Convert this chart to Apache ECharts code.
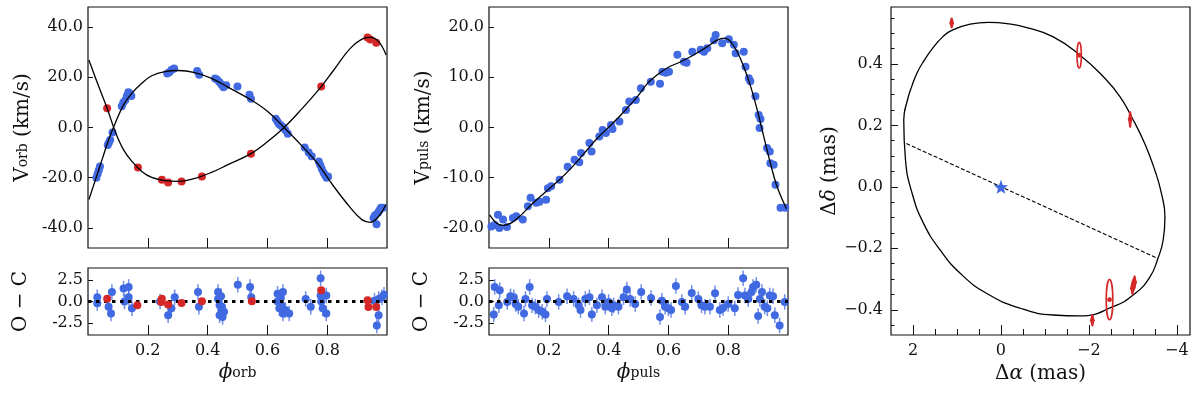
<!DOCTYPE html>
<html>
<head>
<meta charset="utf-8">
<script src="https://cdn.jsdelivr.net/npm/echarts@6.0.0/dist/echarts.min.js"></script>
<style>
  html, body { margin: 0; padding: 0; background: #fff; }
  #chart { width: 1200px; height: 396px; }
</style>
</head>
<body>
<div id="chart"></div>
<script>
// tick values
const phaseTicks = [0.2, 0.4, 0.6, 0.8];
const orbTicks = [-40, -20, 0, 20, 40];
const pulsTicks = [-20, -10, 0, 10, 20];
const ocTicks = [-2.5, 0, 2.5];
const raTicks = [2, 0, -2, -4];
const raMinor = [2, 1.5, 1, 0.5, 0, -0.5, -1, -1.5, -2, -2.5, -3, -3.5, -4];
const decTicks = [-0.4, -0.2, 0, 0.2, 0.4];
const decMinor = [-0.45, -0.4, -0.35, -0.3, -0.25, -0.2, -0.15, -0.1, -0.05, 0, 0.05, 0.1, 0.15, 0.2, 0.25, 0.3, 0.35, 0.4, 0.45, 0.5, 0.55];

// orbital RV: [phase, km/s]
const orbBlue = [[0.028,-20],[0.032,-18.5],[0.036,-17],[0.040,-15.5],[0.066,-7],[0.070,-6],[0.074,-5],[0.082,-2],
  [0.113,8.5],[0.118,10],[0.125,11],[0.130,12.5],[0.135,14],[0.140,13.5],[0.145,12.5],
  [0.265,21.5],[0.272,22],[0.280,23],[0.288,23.5],[0.365,22.5],[0.372,21],
  [0.425,19.5],[0.432,19],[0.440,18],[0.447,17],[0.453,16],[0.462,16.8],[0.500,16.3],[0.540,13],[0.545,11.5],
  [0.628,3.5],[0.633,2.5],[0.638,1.5],[0.643,1],[0.648,0.5],[0.653,0],[0.660,-1],[0.668,-2.5],
  [0.725,-8],[0.738,-10],[0.748,-11.5],[0.772,-13.5],[0.777,-15],[0.782,-16.5],[0.788,-18],[0.793,-19],[0.798,-20],[0.803,-19.5],
  [0.955,-36],[0.960,-35],[0.965,-38.5],[0.970,-34],[0.975,-33],[0.980,-32],[0.987,-32]];
const orbRed = [[0.064,7.7],[0.167,-15.9],[0.247,-20.8],[0.268,-21.9],[0.313,-21.5],[0.381,-19.5],
  [0.545,-10.5],[0.780,16.3],[0.935,35.9],[0.944,35.1],[0.964,33.8]];
const orbModelA = [[0.003,-28.7],[0.025,-20.8],[0.047,-12.8],[0.069,-4.9],[0.091,1.7],[0.119,9],[0.147,13.7],[0.18,17.6],
  [0.213,20.6],[0.257,22.3],[0.302,22.7],[0.357,21.9],[0.413,19.6],[0.468,16.1],[0.545,11],[0.601,6.4],[0.656,0],
  [0.712,-6.9],[0.767,-14.2],[0.822,-23.5],[0.878,-32],[0.916,-36.7],[0.944,-37.8],[0.972,-35.4],[0.997,-30.7]];
const orbModelB = [[0.003,26.9],[0.036,16.3],[0.064,7.7],[0.091,-1.6],[0.119,-8.9],[0.147,-13.5],[0.18,-17.5],[0.213,-19.9],
  [0.257,-21.2],[0.302,-21.5],[0.357,-20.3],[0.413,-17.9],[0.468,-14.8],[0.545,-10.4],[0.601,-5.6],[0.656,0],
  [0.712,7],[0.78,16.3],[0.822,22.9],[0.878,31.6],[0.922,35.5],[0.944,35.9],[0.972,34.2],[0.997,28.9]];

// orbital residuals: [phase, O-C]
const ocOrbBlue = [[0.031,0.5],[0.031,-0.2],[0.069,-0.6],[0.080,1.1],[0.077,-1.4],[0.119,1.5],[0.136,1.7],[0.122,0],
  [0.136,0.5],[0.147,-0.8],[0.241,0],[0.268,-1.6],[0.279,-0.8],[0.290,0.5],[0.368,1.1],[0.371,-0.6],
  [0.435,1.1],[0.435,0.3],[0.440,-0.4],[0.446,-1],[0.440,-1.6],[0.450,-1.8],[0.445,0.6],[0.448,-0.6],[0.455,-1.2],
  [0.501,1.95],[0.542,1.7],[0.546,0.5],[0.634,0.9],[0.634,0],[0.640,-0.8],[0.652,1.1],[0.652,-1.4],[0.645,0.4],
  [0.648,-0.5],[0.660,-1],[0.673,-1.4],[0.728,0.3],[0.745,-0.6],[0.778,2.7],[0.778,0.7],[0.780,0],[0.785,-0.8],
  [0.797,0.7],[0.797,-1.4],[0.958,0.1],[0.972,0.3],[0.972,-1.6],[0.966,-2.8],[0.983,0.5],[0.990,0.8]];
const ocOrbRed = [[0.064,0.33],[0.165,-0.44],[0.247,0.33],[0.245,-0.05],[0.268,-0.35],[0.313,-0.17],[0.381,0.02],
  [0.548,0.02],[0.780,1.3],[0.935,0.14],[0.938,-0.63],[0.964,-0.63]];
const ocErr = 0.9;

// pulsation RV: [phase, km/s]
const pulsPts = [[0.008,-19.7],[0.019,-19.4],[0.030,-17.4],[0.035,-20],[0.047,-18.3],[0.060,-19.8],[0.080,-18],[0.091,-17.7],
  [0.113,-18.3],[0.130,-15.7],[0.139,-14],[0.158,-15],[0.169,-14.8],[0.191,-14.4],[0.197,-12.1],[0.208,-11.7],
  [0.236,-10.4],[0.263,-7.8],[0.286,-6.4],[0.302,-6.9],[0.308,-5.1],[0.336,-3.1],[0.343,-4.8],[0.369,-1.8],
  [0.380,-0.5],[0.391,-1.1],[0.408,0.5],[0.413,-0.3],[0.436,1.2],[0.458,3.5],[0.469,5.2],[0.491,5.5],[0.508,7.8],
  [0.541,9.1],[0.572,8.7],[0.580,11.1],[0.591,10.9],[0.602,11.1],[0.630,14.5],[0.652,13.1],[0.661,12.9],
  [0.680,15.1],[0.708,15.5],[0.719,15.1],[0.730,15.8],[0.752,17.4],[0.758,18.4],[0.780,16.8],[0.802,17.6],
  [0.819,16.5],[0.825,14.8],[0.852,15.1],[0.858,12.1],[0.869,9.8],[0.874,9.2],[0.891,6.2],[0.902,2.5],
  [0.908,1.7],[0.905,-0.1],[0.930,-4.1],[0.939,-4.8],[0.941,-7.1],[0.952,-7.4],[0.958,-11.4],[0.975,-16],[0.991,-16]];
const pulsModel = [[0.002,-17.4],[0.025,-19],[0.047,-19.5],[0.075,-19],[0.108,-17.4],[0.141,-15.4],[0.186,-13],
  [0.23,-10.7],[0.275,-8.1],[0.319,-5.1],[0.363,-2.1],[0.408,0.5],[0.452,3.2],[0.497,6.2],[0.53,8.8],[0.563,10.5],
  [0.597,11.9],[0.641,13.1],[0.686,14.5],[0.73,16.1],[0.763,17.4],[0.788,17.8],[0.808,17.1],[0.83,15.1],
  [0.852,12.1],[0.875,8.2],[0.897,3.5],[0.919,-1.8],[0.941,-7.1],[0.963,-11.7],[0.995,-16.2]];
const ocPuls = [[0.016,-1.5],[0.019,1.7],[0.036,1.3],[0.033,-0.45],[0.061,-0.05],[0.072,0.6],[0.083,0.5],[0.089,-0.3],
  [0.098,-0.6],[0.117,-1.4],[0.122,0.3],[0.136,1.7],[0.144,-0.45],[0.155,-0.6],[0.166,-1],[0.178,-1.2],[0.189,-1.5],
  [0.194,0.3],[0.233,-0.05],[0.261,0.6],[0.283,0.3],[0.300,-0.45],[0.306,-1],[0.322,0.3],[0.336,0.5],[0.344,-1.5],
  [0.361,-0.45],[0.378,0.5],[0.389,-0.6],[0.400,-0.05],[0.411,-0.8],[0.417,-0.45],[0.433,-0.6],[0.450,0.5],
  [0.461,1.4],[0.472,0.3],[0.489,-0.3],[0.509,1.1],[0.542,0.4],[0.572,-1.8],[0.578,0.1],[0.589,-0.6],[0.600,-0.8],
  [0.609,-1],[0.625,1.8],[0.645,-0.05],[0.656,-0.6],[0.678,1],[0.700,0.3],[0.711,-0.45],[0.722,-0.6],[0.739,-0.6],
  [0.756,0.95],[0.772,-1],[0.783,-0.75],[0.800,-0.3],[0.822,-0.8],[0.833,0.75],[0.850,2.7],[0.856,0.7],[0.867,0.3],
  [0.878,1.1],[0.883,1.7],[0.894,1.95],[0.900,-1.7],[0.906,0.3],[0.913,1.1],[0.922,-0.6],[0.931,-0.8],[0.939,0.7],
  [0.950,0.6],[0.956,-1.6],[0.972,-2.8],[0.989,-0.05]];

// astrometric orbit (mas): model ellipse traced clockwise and wrapped past the start, line of nodes,
// measured positions [ra, dec, err_ra, err_dec]
const orbitRA  = [2.17, 2.21, 2.13, 2.02, 1.90, 1.75, 1.53, 1.33, 1.13, 0.70, 0.28, -0.14, -0.59, -1.19, -1.80, -2.33,
  -2.71, -2.97, -3.27, -3.50, -3.65, -3.73, -3.69, -3.57, -3.39, -3.05, -2.55, -1.80, -1.19, -0.44, 0.32, 0.92,
  1.38, 1.76, 2.02, 2.17, 2.21, 2.13];
const orbitDec = [0.087, 0.217, 0.280, 0.330, 0.373, 0.410, 0.455, 0.487, 0.508, 0.529, 0.535, 0.531, 0.518, 0.488,
  0.428, 0.358, 0.293, 0.228, 0.141, 0.054, -0.021, -0.098, -0.173, -0.233, -0.293, -0.347, -0.390, -0.420,
  -0.417, -0.395, -0.347, -0.282, -0.206, -0.119, -0.021, 0.087, 0.217, 0.280];
const nodesLine = [[2.15, 0.141], [-3.57, -0.233]];
const astroPts = [[1.12,0.533,0.02,0.015],[-1.78,0.428,0.05,0.042],[-2.94,0.219,0.02,0.025],[-3.01,-0.32,0.02,0.02],
  [-3.04,-0.31,0.02,0.02],[-2.99,-0.33,0.02,0.02],[-2.47,-0.367,0.075,0.065],[-2.08,-0.434,0.02,0.018]];
const starPos = [[0, 0]];

const SERIF = 'DejaVu Serif';
const BLUE = '#4169e1';
const RED = '#d62728';
const INK = '#111';

const chart = echarts.init(document.getElementById('chart'));

const tickFont = { fontFamily: SERIF, fontSize: 16, color: INK };
// tokens sit on the line bottom; the short line height of "s" pushes it down (subscript)
const nameRich = {
  a: { fontFamily: SERIF, fontSize: 20, color: INK, lineHeight: 22 },
  i: { fontFamily: SERIF, fontSize: 20, fontStyle: 'italic', color: INK, lineHeight: 22 },
  s: { fontFamily: SERIF, fontSize: 14, color: INK, lineHeight: 10 }
};

function grid(left, top, width, height) {
  return { left, top, width, height, show: true, borderColor: INK, borderWidth: 1.2, backgroundColor: 'transparent' };
}

function axis(o, tickVals, tickLen, labelVals, fmt, margin) {
  const a = {
    type: 'value',
    splitLine: { show: false },
    axisLine: { show: false, onZero: false },
    axisTick: { show: true, inside: true, length: tickLen, customValues: tickVals, lineStyle: { color: INK, width: 1 } },
    axisLabel: labelVals
      ? Object.assign({ customValues: labelVals, formatter: fmt, margin: margin }, tickFont)
      : { show: false }
  };
  return Object.assign(a, o);
}

const fix1 = v => v.toFixed(1);
const uminus0 = v => (v < 0 ? '\u2212' : '') + Math.abs(v).toFixed(0);
const uminus1 = v => (v < 0 ? '\u2212' : '') + Math.abs(v).toFixed(1);

function yName(text, gap) {
  return { name: text, nameLocation: 'middle', nameGap: gap, nameRotate: 90, nameTextStyle: { rich: nameRich } };
}
function xName(text, gap) {
  return { name: text, nameLocation: 'middle', nameGap: gap, nameTextStyle: { rich: nameRich } };
}

function errRender(params, api) {
  const x = api.value(0), y = api.value(1);
  const p1 = api.coord([x, y - ocErr]);
  const p2 = api.coord([x, y + ocErr]);
  return {
    type: 'line',
    shape: { x1: p1[0], y1: p1[1], x2: p2[0], y2: p2[1] },
    style: { stroke: 'rgba(65,105,225,0.75)', lineWidth: 1.5 }
  };
}

function astroRender(params, api) {
  const c = api.coord([api.value(0), api.value(1)]);
  const s = api.size([api.value(2), api.value(3)]);
  return {
    type: 'group',
    children: [
      { type: 'ellipse', shape: { cx: c[0], cy: c[1], rx: Math.max(Math.abs(s[0]), 0.8), ry: Math.abs(s[1]) },
        style: { fill: 'none', stroke: RED, lineWidth: 1.6 } },
      { type: 'circle', shape: { cx: c[0], cy: c[1], r: 2.4 }, style: { fill: RED } }
    ]
  };
}

const zeroLine = {
  silent: true, symbol: 'none', label: { show: false },
  lineStyle: { color: '#000', type: [3.5, 4.5], width: 3, cap: 'butt' },
  data: [{ yAxis: 0 }]
};

const option = {
  animation: false,
  backgroundColor: '#fff',
  grid: [
    grid(88, 7, 299, 241),
    grid(88, 268, 299, 67),
    grid(489, 7, 299, 241),
    grid(489, 268, 299, 67),
    grid(891, 7, 299, 328)
  ],
  xAxis: [
    axis({ gridIndex: 0, min: 0, max: 1, position: 'bottom' }, phaseTicks, 10),
    axis(Object.assign({ gridIndex: 1, min: 0, max: 1, position: 'bottom' },
      xName('{i|\u03d5}{s|orb}', 27)), phaseTicks, 10, phaseTicks, fix1, 8),
    axis({ gridIndex: 2, min: 0, max: 1, position: 'bottom' }, phaseTicks, 10),
    axis(Object.assign({ gridIndex: 3, min: 0, max: 1, position: 'bottom' },
      xName('{i|\u03d5}{s|puls}', 27)), phaseTicks, 10, phaseTicks, fix1, 8),
    axis(Object.assign({ gridIndex: 4, min: -4.3, max: 2.5, inverse: true, position: 'bottom' },
      xName('{a|\u0394}{i|\u03b1}{a| (mas)}', 28)), raTicks, 10, raTicks, uminus0, 8),
    axis({ gridIndex: 4, min: -4.3, max: 2.5, inverse: true, position: 'bottom' }, raMinor, 6)
  ],
  yAxis: [
    axis(Object.assign({ gridIndex: 0, min: -48, max: 48, position: 'left' },
      yName('{a|V}{s|orb}{a| (km/s)}', 54)), orbTicks, 5, orbTicks, fix1, 5),
    axis(Object.assign({ gridIndex: 1, min: -3.9, max: 3.9, position: 'left' },
      yName('{a|O \u2212 C}', 56)), ocTicks, 5, ocTicks, fix1, 5),
    axis(Object.assign({ gridIndex: 2, min: -24, max: 24, position: 'left' },
      yName('{a|V}{s|puls}{a| (km/s)}', 54)), pulsTicks, 5, pulsTicks, fix1, 5),
    axis(Object.assign({ gridIndex: 3, min: -3.9, max: 3.9, position: 'left' },
      yName('{a|O \u2212 C}', 56)), ocTicks, 5, ocTicks, fix1, 5),
    axis(Object.assign({ gridIndex: 4, min: -0.482, max: 0.585, position: 'left' },
      yName('{a|\u0394}{i|\u03b4}{a| (mas)}', 50)), decTicks, 7, decTicks, uminus1, 8),
    axis({ gridIndex: 4, min: -0.482, max: 0.585, position: 'left' }, decMinor, 3.5)
  ],
  series: [
    // orbital RV panel
    { type: 'scatter', xAxisIndex: 0, yAxisIndex: 0, data: orbBlue, symbolSize: 8, itemStyle: { color: BLUE, opacity: 1 }, z: 2 },
    { type: 'scatter', xAxisIndex: 0, yAxisIndex: 0, data: orbRed, symbolSize: 8, itemStyle: { color: RED, opacity: 1 }, z: 3 },
    { type: 'line', xAxisIndex: 0, yAxisIndex: 0, data: orbModelA, smooth: 0.4, showSymbol: false, symbol: 'none',
      lineStyle: { color: '#000', width: 1.3 }, z: 5 },
    { type: 'line', xAxisIndex: 0, yAxisIndex: 0, data: orbModelB, smooth: 0.4, showSymbol: false, symbol: 'none',
      lineStyle: { color: '#000', width: 1.3 }, z: 5 },
    // orbital residuals
    { type: 'custom', xAxisIndex: 1, yAxisIndex: 1, data: ocOrbBlue, renderItem: errRender, encode: { x: 0, y: 1 }, z: 1 },
    { type: 'scatter', xAxisIndex: 1, yAxisIndex: 1, data: ocOrbBlue, symbolSize: 8, itemStyle: { color: BLUE, opacity: 1 }, z: 2,
      markLine: zeroLine },
    { type: 'scatter', xAxisIndex: 1, yAxisIndex: 1, data: ocOrbRed, symbolSize: 8, itemStyle: { color: RED, opacity: 1 }, z: 6 },
    // pulsation RV panel
    { type: 'scatter', xAxisIndex: 2, yAxisIndex: 2, data: pulsPts, symbolSize: 8, itemStyle: { color: BLUE, opacity: 1 }, z: 2 },
    { type: 'line', xAxisIndex: 2, yAxisIndex: 2, data: pulsModel, smooth: 0.4, showSymbol: false, symbol: 'none',
      lineStyle: { color: '#000', width: 1.3 }, z: 5 },
    // pulsation residuals
    { type: 'custom', xAxisIndex: 3, yAxisIndex: 3, data: ocPuls, renderItem: errRender, encode: { x: 0, y: 1 }, z: 1 },
    { type: 'scatter', xAxisIndex: 3, yAxisIndex: 3, data: ocPuls, symbolSize: 8, itemStyle: { color: BLUE, opacity: 1 }, z: 2,
      markLine: zeroLine },
    // astrometric orbit
    { type: 'line', xAxisIndex: 4, yAxisIndex: 4, data: orbitRA.map((v, i) => [v, orbitDec[i]]), smooth: 0.5,
      showSymbol: false, symbol: 'none', lineStyle: { color: '#000', width: 1.3 }, z: 3 },
    { type: 'line', xAxisIndex: 4, yAxisIndex: 4, data: nodesLine, showSymbol: false, symbol: 'none',
      lineStyle: { color: '#000', width: 1.1, type: [4, 2] }, z: 3 },
    { type: 'custom', xAxisIndex: 4, yAxisIndex: 4, data: astroPts, renderItem: astroRender, encode: { x: 0, y: 1 }, z: 4 },
    { type: 'scatter', xAxisIndex: 4, yAxisIndex: 4, data: starPos,
      symbol: 'path://M12,1 L14.9,8.6 L23,9 L16.7,14.2 L18.8,22 L12,17.6 L5.2,22 L7.3,14.2 L1,9 L9.1,8.6 Z',
      symbolSize: 14, itemStyle: { color: BLUE, opacity: 1 }, z: 5 }
  ]
};

chart.setOption(option);
</script>
</body>
</html>
